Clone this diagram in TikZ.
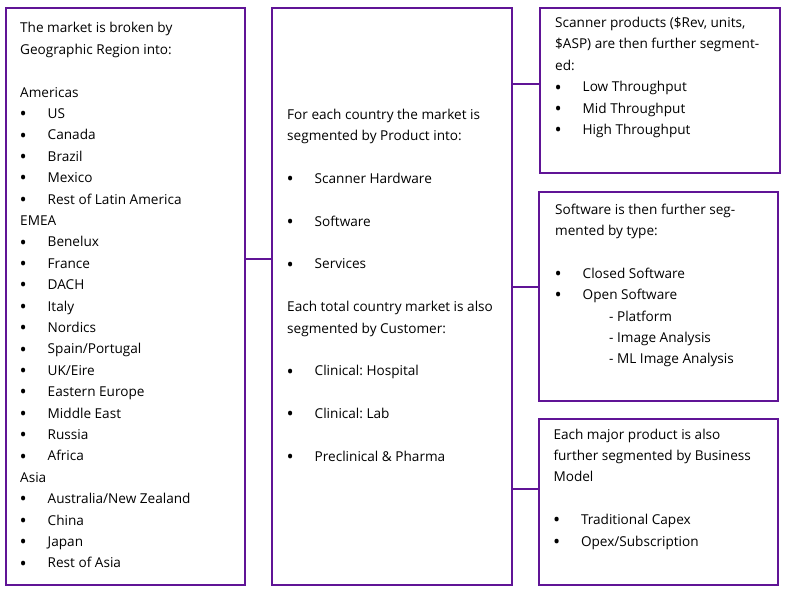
\documentclass[tikz,border=0pt]{standalone}
\usepackage{fontspec}
\usepackage{graphicx}
\setmainfont{Open Sans}
\frenchspacing
\definecolor{bpurple}{RGB}{96,20,150}
\newcommand{\bitem}[1]{\makebox[27.5pt][l]{\hspace*{-0.5pt}\raisebox{-2.3pt}{\scalebox{1.4}{•}}}#1}
\newcommand{\sitem}[1]{\makebox[54pt][l]{}#1}
\begin{document}
\begin{tikzpicture}[x=1pt,y=-1pt,
 box/.style={draw=bpurple,line width=2pt,inner sep=0pt,outer sep=0pt,rectangle},
 txt/.style={anchor=base west,inner sep=0pt,text=black,font=\fontsize{13.6}{16}\selectfont\frenchspacing},
 conn/.style={draw=bpurple,line width=2pt}]
\useasboundingbox (0,0) rectangle (787,595);
\node[box,minimum width=239pt,minimum height=577pt] (L) at (125.5,296.5) {};
\node[box,minimum width=240pt,minimum height=577pt] (M) at (392,296.5) {};
\node[box,minimum width=240pt,minimum height=165pt] (R1) at (660,90.5) {};
\node[box,minimum width=239pt,minimum height=209pt] (R2) at (658.5,296.5) {};
\node[box,minimum width=239pt,minimum height=166pt] (R3) at (658.5,502) {};
\coordinate (cL) at (258,259);
\coordinate (c1) at (525,84);
\coordinate (c2) at (525,287);
\coordinate (c3) at (525,489);
\draw[conn] (cL -| L.east) -- (cL -| M.west);
\draw[conn] (c1 -| M.east) -- (c1 -| R1.west);
\draw[conn] (c2 -| M.east) -- (c2 -| R2.west);
\draw[conn] (c3 -| M.east) -- (c3 -| R3.west);
\foreach \k/\t in {0/{The market is broken by},1/{Geographic Region into:},3/{Americas},
  4/{\bitem{US}},5/{\bitem{Canada}},6/{\bitem{Brazil}},7/{\bitem{Mexico}},8/{\bitem{Rest of Latin America}},
  9/{EMEA},10/{\bitem{Benelux}},11/{\bitem{France}},12/{\bitem{DACH}},13/{\bitem{Italy}},14/{\bitem{Nordics}},
  15/{\bitem{Spain/Portugal}},16/{\bitem{UK/Eire}},17/{\bitem{Eastern Europe}},18/{\bitem{Middle East}},
  19/{\bitem{Russia}},20/{\bitem{Africa}},21/{Asia},22/{\bitem{Australia/New Zealand}},23/{\bitem{China}},
  24/{\bitem{Japan}},25/{\bitem{Rest of Asia}}}
  \node[txt] (L\k) at (20,32.8+21.4*\k) {\t};
\foreach \k/\t in {0/{For each country the market is},1/{segmented by Product into:},
  3/{\bitem{Scanner Hardware}},5/{\bitem{Software}},7/{\bitem{Services}},
  9/{Each total country market is also},10/{segmented by Customer:},
  12/{\bitem{Clinical: Hospital}},14/{\bitem{Clinical: Lab}},16/{\bitem{Preclinical \& Pharma}}}
  \node[txt] (M\k) at (287,119+21.4*\k) {\t};
\foreach \k/\t in {0/{Scanner products (\$Rev, units,},1/{\$ASP) are then further segment-},2/{ed:},
  3/{\bitem{Low Throughput}},4/{\bitem{Mid Throughput}},5/{\bitem{High Throughput}}}
  \node[txt] (A\k) at (555,27.5+21.4*\k) {\t};
\foreach \k/\t in {0/{Software is then further seg-},1/{mented by type:},
  3/{\bitem{Closed Software}},4/{\bitem{Open Software}},5/{\sitem{- Platform}},
  6/{\sitem{- Image Analysis}},7/{\sitem{- ML Image Analysis}}}
  \node[txt] (B\k) at (555,214+21.4*\k) {\t};
\foreach \k/\t in {0/{Each major product is also},1/{further segmented by Business},2/{Model},
  4/{\bitem{Traditional Capex}},5/{\bitem{Opex/Subscription}}}
  \node[txt] (C\k) at (553.3,439+21.4*\k) {\t};
\end{tikzpicture}
\end{document}
